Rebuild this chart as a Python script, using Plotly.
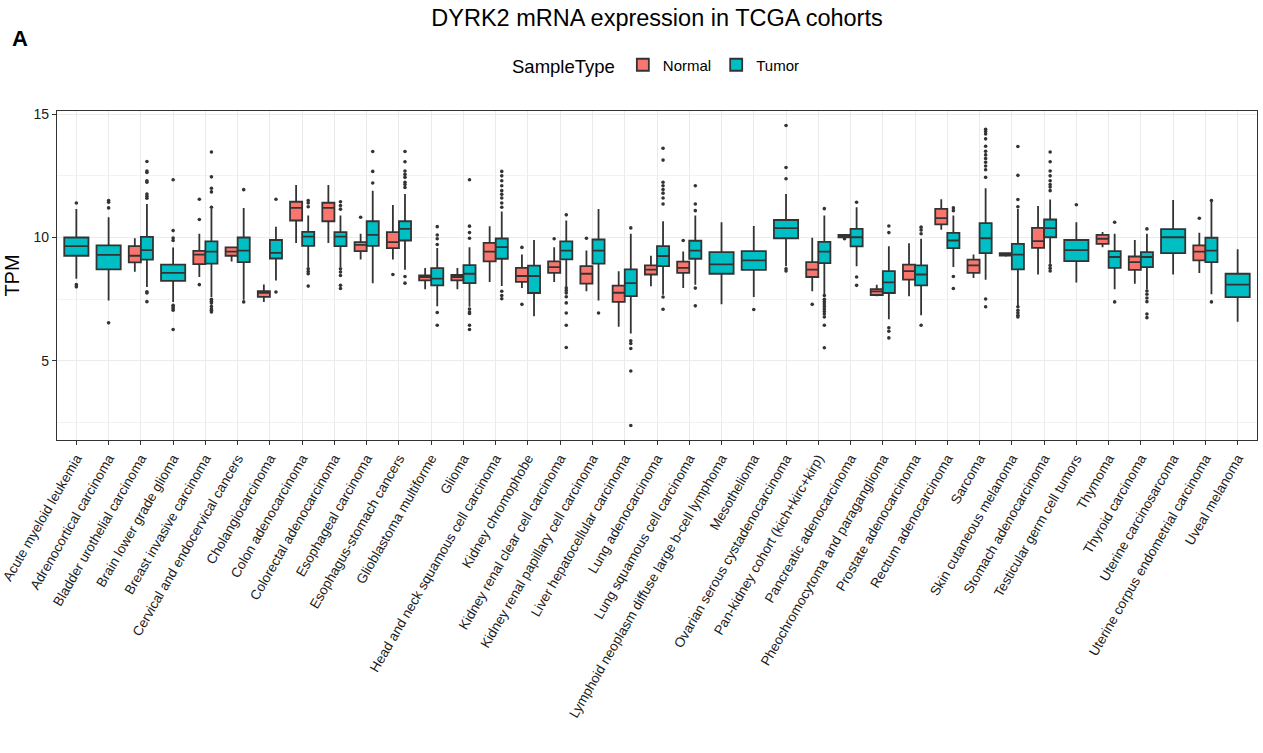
import plotly.graph_objects as go

categories = [
    "Acute myeloid leukemia", "Adrenocortical carcinoma", "Bladder urothelial carcinoma",
    "Brain lower grade glioma", "Breast invasive carcinoma", "Cervical and endocervical cancers",
    "Cholangiocarcinoma", "Colon adenocarcinoma", "Colorectal adenocarcinoma",
    "Esophageal carcinoma", "Esophagus-stomach cancers", "Glioblastoma multiforme", "Glioma",
    "Head and neck squamous cell carcinoma", "Kidney chromophobe",
    "Kidney renal clear cell carcinoma", "Kidney renal papillary cell carcinoma",
    "Liver hepatocellular carcinoma", "Lung adenocarcinoma", "Lung squamous cell carcinoma",
    "Lymphoid neoplasm diffuse large b-cell lymphoma", "Mesothelioma",
    "Ovarian serous cystadenocarcinoma", "Pan-kidney cohort (kich+kirc+kirp)",
    "Pancreatic adenocarcinoma", "Pheochromocytoma and paraganglioma",
    "Prostate adenocarcinoma", "Rectum adenocarcinoma", "Sarcoma",
    "Skin cutaneous melanoma", "Stomach adenocarcinoma", "Testicular germ cell tumors",
    "Thymoma", "Thyroid carcinoma", "Uterine carcinosarcoma",
    "Uterine corpus endometrial carcinoma", "Uveal melanoma",
]

# Normal stats: category index -> (lowerfence, q1, median, q3, upperfence)
normal_idx = [2, 4, 5, 6, 7, 8, 9, 10, 11, 12, 13, 14, 15, 16, 17, 18, 19, 23, 24, 25, 26, 27,
              28, 29, 30, 32, 33, 35]
normal_low = [8.61, 8.40, 9.03, 7.39, 9.78, 9.78, 9.11, 9.11, 7.90, 7.90, 8.20, 7.95, 8.20, 7.82,
              6.38, 8.02, 7.95, 7.82, 9.97, 7.62, 7.62, 10.31, 8.36, 9.22, 8.50, 9.61, 8.13, 8.56]
normal_q1 = [8.99, 8.92, 9.26, 7.59, 10.69, 10.66, 9.45, 9.57, 8.26, 8.26, 9.03, 8.20, 8.57, 8.13,
             7.39, 8.50, 8.57, 8.40, 10.01, 7.67, 8.29, 10.53, 8.57, 9.27, 9.58, 9.74, 8.69, 9.07]
normal_med = [9.26, 9.31, 9.43, 7.76, 11.20, 11.20, 9.70, 9.81, 8.40, 8.40, 9.43, 8.44, 8.80, 8.53,
              7.76, 8.70, 8.77, 8.70, 10.07, 7.82, 8.64, 10.79, 8.87, 9.33, 9.85, 9.95, 9.00, 9.43]
normal_q3 = [9.65, 9.46, 9.60, 7.83, 11.45, 11.41, 9.81, 10.22, 8.46, 8.48, 9.78, 8.77, 9.03, 8.84,
             8.05, 8.87, 9.02, 9.00, 10.11, 7.91, 8.90, 11.16, 9.10, 9.37, 10.39, 10.11, 9.23, 9.68]
normal_high = [9.97, 10.15, 9.60, 8.10, 12.13, 12.13, 10.15, 11.32, 8.76, 8.76, 10.46, 9.31, 9.61,
               9.47, 8.63, 9.26, 9.43, 9.99, 10.13, 8.09, 9.77, 11.55, 9.31, 9.40, 11.28, 10.22,
               9.90, 10.19]
normal_out_idx = [4, 4, 4, 9, 10, 14, 14, 15, 16, 19, 23, 24, 35]
normal_out_val = [10.73, 11.55, 8.09, 10.82, 8.50, 9.60, 7.29, 9.95, 9.97, 9.88, 7.29, 9.95, 10.78]

# Tumor stats
tumor_low = [8.33, 7.45, 7.99, 7.39, 7.59, 7.48, 8.26, 8.80, 8.80, 8.15, 8.69, 7.21, 7.19, 8.03,
             6.81, 7.99, 7.45, 6.11, 7.68, 8.09, 7.29, 7.59, 8.83, 7.70, 8.84, 6.69, 6.85, 8.80,
             8.29, 7.21, 8.94, 8.18, 7.90, 7.89, 8.50, 7.70, 6.58]
tumor_q1 = [9.26, 8.71, 9.10, 8.24, 8.94, 9.00, 9.15, 9.66, 9.65, 9.66, 9.88, 8.06, 8.15, 9.14,
            7.75, 9.11, 8.94, 7.62, 8.84, 9.14, 8.53, 8.69, 9.97, 8.96, 9.64, 7.75, 8.06, 9.57,
            9.37, 8.71, 10.01, 9.04, 8.77, 8.80, 9.37, 9.00, 7.58]
tumor_med = [9.65, 9.30, 9.49, 8.57, 9.43, 9.47, 9.38, 10.04, 10.04, 10.11, 10.35, 8.33, 8.53,
             9.61, 8.44, 9.47, 9.47, 8.15, 9.25, 9.47, 8.91, 9.07, 10.38, 9.43, 10.01, 8.18,
             8.50, 9.88, 9.97, 9.31, 10.38, 9.49, 9.21, 9.21, 10.01, 9.47, 8.09]
tumor_q3 = [10.00, 9.68, 10.03, 8.90, 9.84, 10.00, 9.90, 10.23, 10.22, 10.66, 10.66, 8.76, 8.88,
            9.96, 8.86, 9.84, 9.92, 8.71, 9.65, 9.87, 9.41, 9.45, 10.71, 9.82, 10.35, 8.64,
            8.87, 10.19, 10.58, 9.74, 10.73, 9.90, 9.45, 9.41, 10.34, 9.99, 8.53]
tumor_high = [11.16, 10.82, 11.36, 9.60, 11.16, 11.20, 10.44, 10.89, 10.89, 11.90, 11.76, 9.57,
              9.61, 11.05, 9.90, 10.69, 11.16, 10.15, 10.66, 10.89, 10.62, 10.47, 11.76, 10.89,
              11.23, 9.65, 9.95, 10.89, 12.00, 11.16, 11.54, 10.62, 10.15, 10.15, 11.52, 11.52,
              9.52]
tumor_out_idx = (
    [0, 0, 0]
    + [1, 1, 1, 1]
    + [2] * 11
    + [3] * 9
    + [4] * 12
    + [5, 5]
    + [6, 6]
    + [7] * 7
    + [8] * 8
    + [9] * 3
    + [10] * 10
    + [11] * 6
    + [12] * 9
    + [13] * 12
    + [15] * 9
    + [16]
    + [17] * 6
    + [18] * 10
    + [19] * 5
    + [21]
    + [22] * 5
    + [23] * 12
    + [24] * 3
    + [25] * 5
    + [26] * 4
    + [27] * 4
    + [28] * 14
    + [29] * 9
    + [30] * 11
    + [31]
    + [32, 32]
    + [33] * 7
    + [35] * 2
)
tumor_out_val = (
    [11.40, 8.09, 8.00]
    + [11.50, 11.43, 11.20, 6.54]
    + [13.08, 12.70, 12.64, 12.30, 12.24, 11.76, 11.67, 11.59, 7.75, 7.40, 7.80]
    + [10.28, 9.98, 9.88, 12.34, 7.19, 7.12, 7.05, 6.27, 7.25]
    + [11.23, 12.00, 11.85, 12.46, 13.47, 7.50, 7.42, 7.34, 7.20, 7.10, 6.98, 7.05]
    + [11.94, 7.39]
    + [11.55, 7.79]
    + [11.50, 11.40, 11.25, 8.73, 8.62, 8.53, 8.03]
    + [11.45, 11.30, 11.15, 8.73, 8.60, 8.46, 8.06, 7.93]
    + [12.21, 12.68, 13.49]
    + [12.03, 12.15, 12.24, 12.44, 12.56, 12.70, 13.07, 13.49, 8.42, 8.15]
    + [10.44, 10.10, 9.95, 9.72, 6.96, 6.44]
    + [10.46, 10.20, 9.97, 12.34, 7.10, 6.98, 6.92, 6.44, 6.27]
    + [12.68, 12.50, 12.30, 12.10, 11.90, 11.75, 11.60, 11.40, 11.23, 7.82, 7.65, 7.52]
    + [10.92, 7.95, 7.85, 7.75, 7.60, 7.35, 6.94, 6.44, 5.54]
    + [6.94]
    + [10.39, 5.81, 5.70, 5.50, 4.59, 2.38]
    + [13.62, 13.14, 12.24, 12.10, 11.95, 11.80, 11.60, 11.36, 7.59, 7.09]
    + [12.10, 11.36, 11.09, 7.95, 7.23]
    + [7.08]
    + [12.38, 12.84, 14.54, 8.73, 8.64]
    + [11.17, 7.65, 7.50, 7.40, 7.30, 7.20, 7.10, 7.00, 6.90, 6.78, 6.44, 5.53]
    + [11.43, 8.40, 8.06]
    + [10.47, 10.20, 6.34, 6.20, 5.93]
    + [10.42, 10.30, 10.15, 6.44]
    + [11.20, 11.09, 8.42, 7.93]
    + [14.39, 14.30, 14.20, 14.00, 13.70, 13.50, 13.35, 13.20, 13.05, 12.90, 12.75, 12.44,
       7.51, 7.19]
    + [11.25, 11.54, 12.52, 13.69, 7.19, 7.05, 6.95, 6.85, 6.78]
    + [13.47, 13.07, 12.50, 12.30, 12.15, 12.05, 11.90, 8.87, 8.75, 8.64, 12.70]
    + [11.33]
    + [10.62, 7.39]
    + [10.35, 7.83, 7.70, 7.55, 7.40, 6.90, 6.75]
    + [11.50, 7.39]
)

colors = {"Normal": "#F8766D", "Tumor": "#00BFC4"}

DODGE = 0.1875
normal_set = set(normal_idx)


def tumor_pos(i):
    return i + DODGE if i in normal_set else i


paired = [i for i in range(len(categories)) if i in normal_set]
solo = [i for i in range(len(categories)) if i not in normal_set]

fig = go.Figure()

line_col = "#333333"
LW = 1.8

fig.add_trace(go.Box(
    name="Normal", legendgroup="Normal", showlegend=True,
    x=[i - DODGE for i in normal_idx],
    lowerfence=normal_low, q1=normal_q1, median=normal_med, q3=normal_q3,
    upperfence=normal_high, width=0.375, whiskerwidth=0,
    fillcolor=colors["Normal"], line=dict(color=line_col, width=LW), boxpoints=False,
))

fig.add_trace(go.Box(
    name="Tumor", legendgroup="Tumor", showlegend=True,
    x=[tumor_pos(i) for i in paired],
    lowerfence=[tumor_low[i] for i in paired], q1=[tumor_q1[i] for i in paired],
    median=[tumor_med[i] for i in paired], q3=[tumor_q3[i] for i in paired],
    upperfence=[tumor_high[i] for i in paired], width=0.375, whiskerwidth=0,
    fillcolor=colors["Tumor"], line=dict(color=line_col, width=LW), boxpoints=False,
))

fig.add_trace(go.Box(
    name="Tumor", legendgroup="Tumor", showlegend=False,
    x=solo,
    lowerfence=[tumor_low[i] for i in solo], q1=[tumor_q1[i] for i in solo],
    median=[tumor_med[i] for i in solo], q3=[tumor_q3[i] for i in solo],
    upperfence=[tumor_high[i] for i in solo], width=0.75, whiskerwidth=0,
    fillcolor=colors["Tumor"], line=dict(color=line_col, width=LW), boxpoints=False,
))

fig.add_trace(go.Scatter(
    x=[i - DODGE for i in normal_out_idx], y=normal_out_val, mode="markers",
    marker=dict(color=line_col, size=3.6), showlegend=False, hoverinfo="y",
))
fig.add_trace(go.Scatter(
    x=[tumor_pos(i) for i in tumor_out_idx], y=tumor_out_val, mode="markers",
    marker=dict(color=line_col, size=3.6), showlegend=False, hoverinfo="y",
))

font_family = "Liberation Sans, Arial, sans-serif"
PLOT_TOP, PLOT_H = 111, 329

fig.update_layout(
    width=1263, height=753,
    paper_bgcolor="white", plot_bgcolor="white",
    font=dict(family=font_family, color="black"),
    margin=dict(l=57, r=6, t=PLOT_TOP, b=753 - PLOT_TOP - PLOT_H),
    boxmode="overlay",
    title=dict(text="DYRK2 mRNA expression in TCGA cohorts", xref="paper", x=0.5,
               xanchor="center", y=1 - 18 / 753, yanchor="middle",
               font=dict(size=23.5, color="black")),
    legend=dict(orientation="h", x=0.5, xanchor="center",
                y=1 + (PLOT_TOP - 66) / PLOT_H, yanchor="middle",
                title=dict(text="SampleType", font=dict(size=18.5)),
                font=dict(size=15)),
    xaxis=dict(
        range=[-0.6, len(categories) - 0.4],
        tickmode="array", tickvals=list(range(len(categories))), ticktext=categories,
        tickangle=-60, tickfont=dict(size=13.6, color="#1a1a1a"),
        ticklabeloverflow="allow", automargin=False,
        showgrid=True, gridcolor="#EBEBEB", gridwidth=1.1,
        ticks="outside", ticklen=4, tickcolor=line_col,
        showline=True, linecolor=line_col, mirror=True, linewidth=1.2,
        zeroline=False,
    ),
    yaxis=dict(
        range=[1.79, 15.13], automargin=False,
        tickmode="array", tickvals=[5, 10, 15],
        tickfont=dict(size=14, color="#1a1a1a"),
        title=dict(text="TPM", font=dict(size=20), standoff=8),
        showgrid=True, gridcolor="#EBEBEB", gridwidth=1.1,
        minor=dict(tickvals=[2.5, 7.5, 12.5], showgrid=True, gridcolor="#F2F2F2", gridwidth=0.6),
        ticks="outside", ticklen=4, tickcolor=line_col,
        showline=True, linecolor=line_col, mirror=True, linewidth=1.2,
        zeroline=False,
    ),
    annotations=[dict(text="<b>A</b>", x=(10 - 57) / 1200, y=1 + (PLOT_TOP - 38) / PLOT_H,
                      xref="paper", yref="paper", xanchor="left", yanchor="middle",
                      showarrow=False, font=dict(size=22))],
)

fig.write_html("out.html")
